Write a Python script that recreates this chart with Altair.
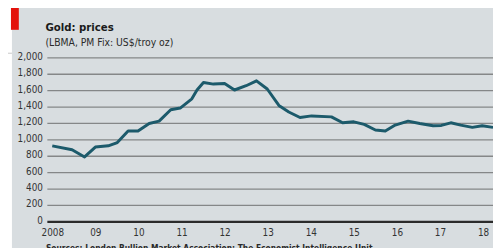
import altair as alt
import pandas as pd

# ---- data ----
years = [2008.0, 2008.46, 2008.75, 2009.0, 2009.30, 2009.51, 2009.76, 2009.99,
         2010.25, 2010.48, 2010.75, 2010.97, 2011.24, 2011.36, 2011.51, 2011.74,
         2012.0, 2012.23, 2012.50, 2012.74, 2012.99, 2013.26, 2013.49, 2013.75,
         2014.02, 2014.48, 2014.74, 2015.0, 2015.24, 2015.50, 2015.73, 2015.96,
         2016.26, 2016.53, 2016.84, 2017.03, 2017.25, 2017.48, 2017.75, 2017.98,
         2018.23]
prices = [927, 880, 792, 912, 927, 967, 1107, 1107,
          1200, 1228, 1368, 1388, 1500, 1608, 1700, 1680,
          1688, 1608, 1660, 1720, 1620, 1420, 1340, 1272,
          1292, 1280, 1208, 1220, 1188, 1120, 1108, 1180,
          1228, 1200, 1172, 1176, 1208, 1180, 1152, 1172,
          1152]
y_ticks = [0, 200, 400, 600, 800, 1000, 1200, 1400, 1600, 1800, 2000]
x_ticks = [2008, 2009, 2010, 2011, 2012, 2013, 2014, 2015, 2016, 2017, 2018]
title_text = ["Gold: prices"]
subtitle_text = ["(LBMA, PM Fix: US$/troy oz)"]
source_text = ["Sources: London Bullion Market Association; The Economist Intelligence Unit"]

FONT = "Liberation Sans Narrow, DejaVu Sans Condensed, Roboto"
PANEL = "#d8dde0"
W, H = 453, 166.7
PAD = {"left": 40, "top": 48.7, "right": 0, "bottom": 24.6}

df = pd.DataFrame({"year": years, "price": prices})

xscale = alt.Scale(domain=[2007.886, 2018.23], nice=False, zero=False)
yscale = alt.Scale(domain=[0, 2000], nice=False)

one = pd.DataFrame({"k": [0]})

panel = alt.Chart(one).mark_rect(color=PANEL).encode(
    x=alt.value(-36), x2=alt.value(W + 10), y=alt.value(-60), y2=alt.value(H + 40)
)
red = alt.Chart(one).mark_rect(color="#e3120b").encode(
    x=alt.value(-37), x2=alt.value(-29), y=alt.value(-60), y2=alt.value(-28.5)
)
left_rule = alt.Chart(one).mark_rule(color="#c8c8c8", strokeWidth=1).encode(
    x=alt.value(-42), x2=alt.value(-36), y=alt.value(-4.7)
)

yaxis = alt.Axis(values=y_ticks, format=",.0f", domain=False, ticks=False,
                 grid=False, labelPadding=5, labelFontSize=10, labelOverlap=False,
                 labelFlush=False, labelFont=FONT, labelColor="#333333", title=None,
                 labelBaseline="middle", labelOffset=-1.5, zindex=2)

grid = alt.Chart(pd.DataFrame({"v": y_ticks[1:]})).mark_rule(
    color="#858788", strokeWidth=1.3
).encode(
    y=alt.Y("v:Q", scale=yscale, axis=yaxis),
    x=alt.value(0), x2=alt.value(W)
)
zero = alt.Chart(pd.DataFrame({"v": [0]})).mark_rule(
    color="#2b2b2b", strokeWidth=2.2
).encode(
    y=alt.Y("v:Q", scale=yscale, axis=yaxis), x=alt.value(0), x2=alt.value(W)
)

line = alt.Chart(df).mark_line(
    color="#1c5a6b", strokeWidth=3, clip=True, strokeJoin="round"
).encode(
    x=alt.X("year:Q", scale=xscale,
            axis=alt.Axis(values=x_ticks, domain=False, ticks=False, grid=False,
                          labelPadding=5.5, labelFontSize=10, labelFont=FONT,
                          labelOverlap=False, labelFlush=False,
                          labelColor="#333333", title=None, zindex=2,
                          labelExpr="datum.value == 2008 ? '2008' : substring(toString(datum.value), 2, 4)")),
    y=alt.Y("price:Q", scale=yscale, axis=yaxis)
)

title = alt.Chart(pd.DataFrame({"t": title_text})).mark_text(
    align="left", baseline="alphabetic", font=FONT, fontSize=11.5,
    fontWeight="bold", color="#1a1a1a"
).encode(text="t:N", x=alt.value(-2), y=alt.value(-27.5))

subtitle = alt.Chart(pd.DataFrame({"t": subtitle_text})).mark_text(
    align="left", baseline="alphabetic", font=FONT, fontSize=10.5,
    color="#2a2a2a"
).encode(text="t:N", x=alt.value(-2), y=alt.value(-12.3))

source = alt.Chart(pd.DataFrame({"t": source_text})).mark_text(
    align="left", baseline="alphabetic", font=FONT, fontSize=8.5,
    fontWeight="bold", color="#2a2a2a"
).encode(text="t:N", x=alt.value(-1.5), y=alt.value(H + 30))

chart = alt.layer(
    panel, red, left_rule, grid, zero, line, title, subtitle, source
).properties(
    width=W, height=H, padding=PAD,
    autosize=alt.AutoSizeParams(type="none"),
    background="white"
).configure_view(stroke=None, fill=None)

chart.save("out.html", embed_options={"renderer": "svg", "actions": False})
